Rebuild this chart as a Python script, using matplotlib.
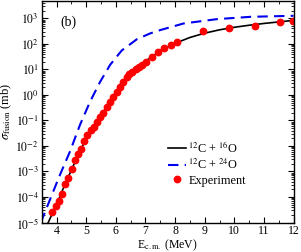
import numpy as np
import matplotlib
matplotlib.use("Agg")
import matplotlib.pyplot as plt
from matplotlib.ticker import LogLocator, MultipleLocator, NullFormatter

plt.rcParams['font.family'] = ['Liberation Serif', 'DejaVu Serif']
plt.rcParams['mathtext.fontset'] = 'stix'

# experiment (E_cm in MeV, sigma in mb, read as log10)
exp_e = [3.86, 3.97, 4.07, 4.17, 4.28, 4.39, 4.51, 4.62, 4.72, 4.82,
         4.94, 5.04, 5.15, 5.25, 5.36, 5.47, 5.58, 5.69, 5.81, 5.92,
         6.03, 6.15, 6.26, 6.37, 6.46, 6.56, 6.68, 6.79, 6.89, 7.01,
         7.22, 7.41, 7.64, 7.86, 8.08, 8.94, 9.81, 10.68, 11.55, 11.99]
exp_logs = [-4.58, -4.35, -4.15, -3.90, -3.50, -3.25, -2.90, -2.56, -2.33, -2.10,
            -1.81, -1.59, -1.38, -1.25, -1.05, -0.88, -0.69, -0.49, -0.27, -0.08,
            0.12, 0.32, 0.51, 0.69, 0.82, 0.91, 1.00, 1.08, 1.16, 1.28,
            1.49, 1.67, 1.82, 1.96, 2.06, 2.51, 2.63, 2.71, 2.84, 2.91]

# 12C + 16O calculation
o16_e = [3.72, 4.0, 4.25, 4.5, 4.75, 5.0, 5.25, 5.5, 5.75, 6.0, 6.25, 6.5,
         6.75, 7.0, 7.5, 8.0, 8.5, 9.0, 9.5, 10.0, 10.5, 11.0, 11.5, 12.0]
o16_logs = [-5.0, -4.3, -3.6, -2.95, -2.3, -1.72, -1.22, -0.8, -0.38, 0.04, 0.44, 0.8,
            1.08, 1.32, 1.72, 2.02, 2.25, 2.42, 2.55, 2.65, 2.73, 2.80, 2.86, 2.92]

# 12C + 24O calculation
o24_e = [3.47, 3.77, 4.11, 4.45, 4.79, 5.13, 5.47, 5.81, 6.2, 6.71, 7.16,
         7.5, 8.29, 9.42, 10.55, 12.0]
o24_logs = [-5.0, -4.13, -3.15, -2.23, -1.18, -0.27, 0.51, 1.18, 1.74, 2.18, 2.41,
            2.54, 2.80, 2.97, 3.06, 3.10]

y_decades = list(range(-5, 4))

fig = plt.figure(figsize=(3.01, 2.52), dpi=100)
ax = fig.add_axes([0.1385, 0.117, 0.837, 0.881])

ax.semilogy(o16_e, 10.0 ** np.array(o16_logs), color='black', lw=1.2,
            label=r'$^{12}$C + $^{16}$O')
ax.semilogy(o24_e, 10.0 ** np.array(o24_logs), color='#0000ee', lw=1.5,
            ls=(0, (5, 3)), label=r'$^{12}$C + $^{24}$O')
ax.semilogy(exp_e, 10.0 ** np.array(exp_logs), 'o', color='#ff0000', ms=4.6,
            mec='#ff0000', label='Experiment')

ax.set_xlim(3.5, 12)
ax.set_ylim(1e-5, 5e3)
ax.xaxis.set_major_locator(MultipleLocator(1))
ax.xaxis.set_minor_locator(MultipleLocator(0.5))
ax.set_yticks([10.0 ** k for k in y_decades])
ax.set_yticklabels([r'$10^{%d}$' % k for k in y_decades])
ax.yaxis.set_minor_locator(LogLocator(base=10, subs=np.arange(2, 10), numticks=20))
ax.yaxis.set_minor_formatter(NullFormatter())
ax.tick_params(which='both', direction='in', top=True, right=True, labelsize=8.5, pad=2)
ax.tick_params(which='major', length=4, width=0.8)
ax.tick_params(which='minor', length=2, width=0.6)
for s in ax.spines.values():
    s.set_linewidth(1.0)

ax.set_xlabel(r'E$_{\mathrm{c.m.}}$ (MeV)', fontsize=8.5, labelpad=0)
ax.set_ylabel(r'$\sigma_{\mathrm{fusion}}$ (mb)', fontsize=9, labelpad=1)
ax.text(0.073, 0.9, '(b)', transform=ax.transAxes, fontsize=10, va='center')

ax.legend(loc='lower right', bbox_to_anchor=(0.83, 0.14), frameon=False, fontsize=8.8,
          handlelength=1.5, handletextpad=0.2, labelspacing=0.2, borderaxespad=0)

fig.savefig('out.png', dpi=100)
